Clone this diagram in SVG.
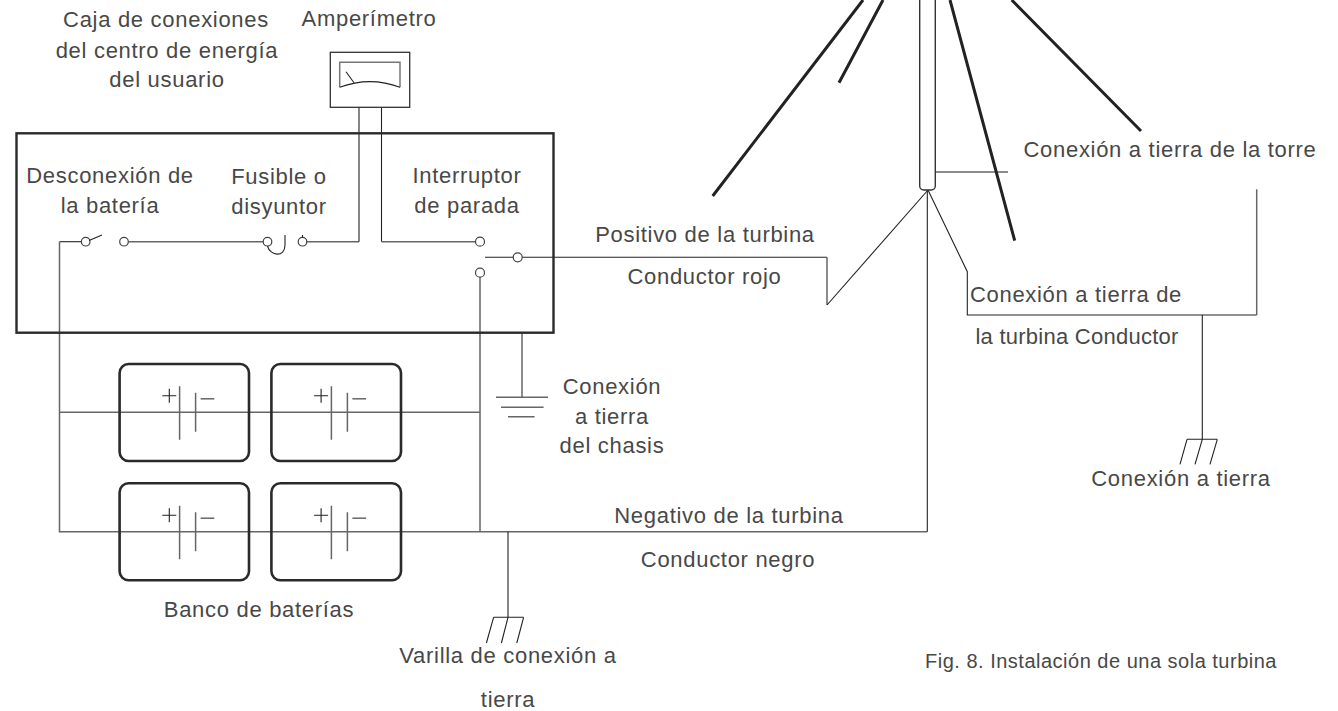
<svg xmlns="http://www.w3.org/2000/svg" width="1338" height="711" viewBox="0 0 1338 711">
<style>
text{font-family:"Liberation Sans",Arial,sans-serif;font-size:22px;letter-spacing:.7px;fill:#484848;text-anchor:middle}
.fig{font-size:20px;letter-spacing:.5px}
.tight{letter-spacing:.25px}
.w{fill:none;stroke:#666;stroke-width:1.5}
.k{fill:none;stroke:#222;stroke-width:1.1}
.g{fill:none;stroke:#222;stroke-width:3}
.b{fill:none;stroke:#2a2a2a;stroke-width:2.6}
.c{fill:#fff;stroke:#444;stroke-width:1.2}
</style>
<defs>
<g id="cell"><path class="w" d="M0 -26V27.500M16 -19.500V19.500"/><path class="k" d="M-17.300 -16.500H-3.300M-10.300 -23.500V-9.500"/><path class="w" d="M21 -13.500H34.700"/></g>
</defs>
<rect width="1338" height="711" fill="#fff"/>
<g id="connectors">
<path class="k" d="M85 241.700H59.500"/>
<path class="w" d="M59.500 241.700V531.700H927.300"/>
<path class="w" d="M124 241.700H267"/>
<path class="w" d="M302 241.700H359"/>
<path class="k" d="M359 241.700V107.300"/>
<path class="k" d="M381.500 107.300V241.700"/>
<path class="w" d="M381.500 241.700H480"/>
<path class="k" d="M485 257.300H827"/>
<path class="w" d="M827 257.300V305"/>
<path class="k" d="M827 305L928 190"/>
<path class="w" d="M480 272.700V531.700"/>
<path class="w" d="M59.500 412.300H480"/>
<path class="w" d="M522 332.700V397.300"/>
<path class="k" d="M508 531.700V617.300"/>
<path class="k" d="M927.300 190V531.700"/>
<path class="k" d="M928 190L967.300 271.700V315H1256.700"/>
<path class="w" d="M1256.700 315V189.300"/>
<path class="k" d="M1202.300 315V439.300"/>
<path class="w" d="M935 172H1008"/>
</g>
<g id="control-box"><rect x="16.500" y="133.300" width="537" height="199.400" fill="none" stroke="#2a2a2a" stroke-width="2.400"/></g>
<g id="ammeter">
<rect x="330.300" y="52.300" width="79.400" height="55" fill="none" stroke="#333" stroke-width="1.300"/>
<path fill="none" stroke="#777" stroke-width="1.500" d="M339.700 87.300V62.300H400V87.300"/>
<path class="k" d="M339.700 87.300Q370 76 400 87.300M346 71.700L354 82.700"/>
</g>
<g id="switch-disconnect"><circle class="c" cx="85.700" cy="241.700" r="4.300"/><circle class="c" cx="124" cy="241.700" r="4.300"/><path class="k" d="M89 240.500L102 235"/></g>
<g id="fuse"><circle class="c" cx="267.500" cy="241.700" r="4.300"/><path class="k" d="M267.500 246C270 256 285 258 285 245V235"/><circle class="c" cx="302.500" cy="241.700" r="4.300"/><path class="k" d="M302.500 237.500V235"/></g>
<g id="stop-switch"><circle class="c" cx="480" cy="241.700" r="4.500"/><circle class="c" cx="517.700" cy="257.300" r="4.500"/><circle class="c" cx="480" cy="272.700" r="4.500"/></g>
<g id="battery-1"><rect class="b" x="119.600" y="364" width="129.400" height="97" rx="9"/><use href="#cell" x="179.600" y="412.300"/></g>
<g id="battery-2"><rect class="b" x="271.400" y="364" width="129.600" height="97" rx="9"/><use href="#cell" x="331.400" y="412.300"/></g>
<g id="battery-3"><rect class="b" x="119.600" y="483.300" width="129.400" height="97" rx="9"/><use href="#cell" x="179.600" y="531.700"/></g>
<g id="battery-4"><rect class="b" x="271.400" y="483.300" width="129.600" height="97" rx="9"/><use href="#cell" x="331.400" y="531.700"/></g>
<g id="chassis-ground"><path class="w" d="M496 397.300H548M501 407.300H543.600M508 416.700H534.600"/></g>
<g id="rod-ground"><path class="k" d="M493.600 617.300H523.600M493.600 617.300L486.400 643M508 617.300L501.400 643M523.600 617.300L516.800 643"/></g>
<g id="earth-ground"><path class="k" d="M1187 439.300H1217.300M1187 439.300L1180 464.300M1202.300 439.300L1195 464.300M1217.300 439.300L1210 464.300"/></g>
<g id="tower"><rect x="919.700" y="-10" width="15.600" height="200" rx="4" fill="#fff" stroke="#333" stroke-width="1.400"/>
<path class="g" d="M863 0L712.700 196M883 0L839 82.700M950 0L1014.700 240.700M1011.700 0L1141 131"/></g>
<g id="labels">
<text x="166" y="27.300">Caja de conexiones</text>
<text x="167" y="58.300">del centro de energía</text>
<text x="167" y="87.300">del usuario</text>
<text x="369" y="26">Amperímetro</text>
<text x="110" y="182.700">Desconexión de</text>
<text x="110" y="212.700">la batería</text>
<text x="279" y="184">Fusible o</text>
<text x="279" y="214">disyuntor</text>
<text x="467" y="182.700">Interruptor</text>
<text x="467" y="212.700">de parada</text>
<text x="705" y="241.700">Positivo de la turbina</text>
<text x="704.500" y="284">Conductor rojo</text>
<text x="1170" y="156.700">Conexión a tierra de la torre</text>
<text x="1076" y="301.700">Conexión a tierra de</text>
<text class="tight" x="1077" y="344">la turbina Conductor</text>
<text x="612" y="394">Conexión</text>
<text x="612" y="424">a tierra</text>
<text x="612" y="453.300">del chasis</text>
<text x="1181" y="486">Conexión a tierra</text>
<text x="729" y="523.300">Negativo de la turbina</text>
<text x="728" y="566.700">Conductor negro</text>
<text x="259" y="616.700">Banco de baterías</text>
<text x="508" y="663">Varilla de conexión a</text>
<text x="508" y="706.700">tierra</text>
<text class="fig" x="1101" y="668">Fig. 8. Instalación de una sola turbina</text>
</g>
</svg>
